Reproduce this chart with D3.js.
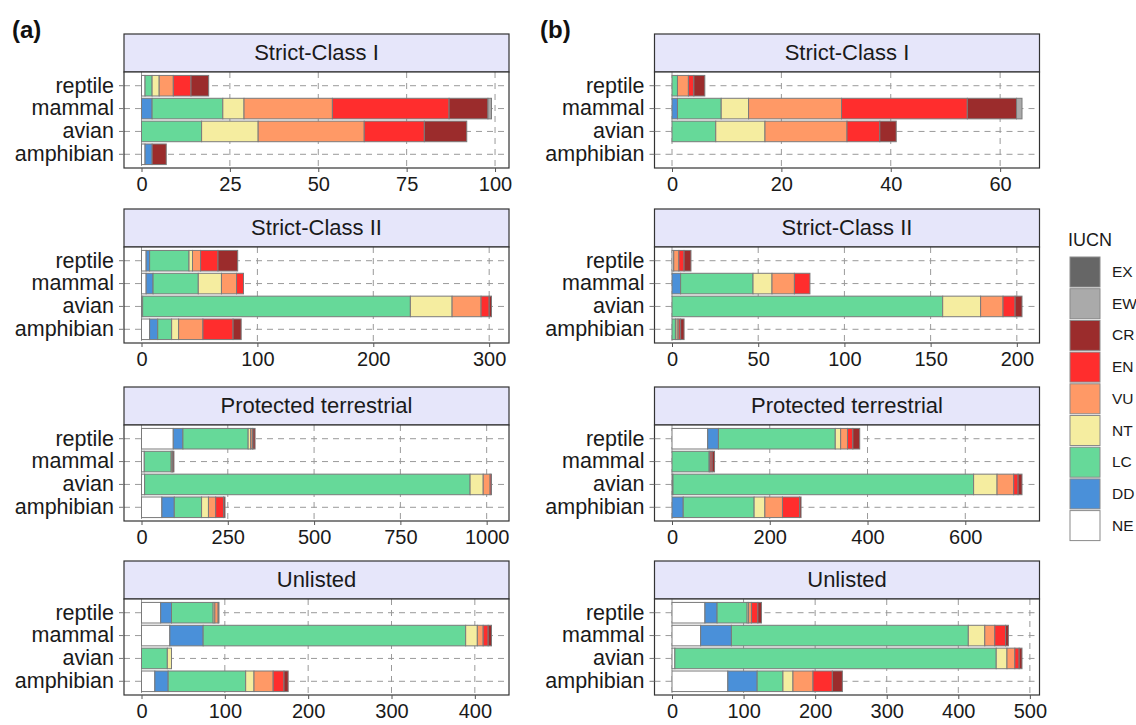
<!DOCTYPE html>
<html><head><meta charset="utf-8">
<script src="https://cdn.jsdelivr.net/npm/d3@7"></script>
<style>body{margin:0;background:#fff}svg{display:block}text{font-family:"Liberation Sans",Arial,sans-serif}</style>
</head><body>
<svg id="chart" width="1136" height="725"></svg>
<script>
// ---------- data ----------
const taxa = ["amphibian", "avian", "mammal", "reptile"];
const statuses = ["NE", "DD", "LC", "NT", "VU", "EN", "CR", "EW", "EX"];
const statusColors = ["#ffffff", "#4a90d9", "#66d999", "#f5eda0", "#ff9966", "#ff2d2d", "#9b2c2c", "#aaaaaa", "#666666"];
const panelTitles = ["Strict-Class I", "Strict-Class II", "Protected terrestrial", "Unlisted"];
const columnLabels = ["(a)", "(b)"];

// counts per taxon (rows: amphibian, avian, mammal, reptile; cols: NE DD LC NT VU EN CR EW EX)
const a_strictI = [
  [1, 2, 0, 0, 0, 0, 4, 0, 0],
  [0, 0, 17, 16, 30, 17, 12, 0, 0],
  [0, 3, 20, 6, 25, 33, 11, 1, 0],
  [1, 0, 2, 2, 4, 5, 5, 0, 0]
];
const a_strictII = [
  [7, 7, 12, 6, 21, 26, 7, 0, 0],
  [1, 0, 231, 36, 25, 7, 2, 0, 0],
  [4, 6, 39, 20, 13, 6, 0, 0, 0],
  [4, 3, 34, 3, 7, 15, 17, 0, 0]
];
const a_protected = [
  [59, 36, 79, 20, 21, 23, 4, 0, 0],
  [9, 0, 943, 38, 20, 4, 0, 0, 0],
  [8, 0, 78, 0, 3, 2, 3, 0, 0],
  [92, 28, 189, 7, 5, 2, 6, 0, 0]
];
const a_unlisted = [
  [16, 16, 93, 10, 23, 13, 5, 0, 0],
  [0, 0, 31, 5, 0, 0, 0, 0, 0],
  [34, 40, 315, 14, 7, 6, 4, 0, 0],
  [23, 13, 50, 2, 4, 0, 1, 0, 0]
];
const b_strictI = [
  [0, 0, 0, 0, 0, 0, 0, 0, 0],
  [0, 0, 8, 9, 15, 6, 3, 0, 0],
  [0, 1, 8, 5, 17, 23, 9, 1, 0],
  [0, 0, 1, 0, 2, 1, 2, 0, 0]
];
const b_strictII = [
  [0, 0, 2, 1, 1, 1, 2, 0, 0],
  [0, 0, 157, 22, 13, 7, 4, 0, 0],
  [0, 5, 42, 11, 13, 9, 0, 0, 0],
  [1, 0, 0, 0, 3, 3, 4, 0, 0]
];
const b_protected = [
  [0, 23, 145, 22, 36, 35, 3, 0, 0],
  [2, 0, 615, 48, 34, 9, 8, 0, 0],
  [0, 0, 76, 0, 2, 4, 5, 0, 0],
  [73, 22, 239, 11, 14, 11, 14, 0, 0]
];
const b_unlisted = [
  [78, 41, 36, 14, 28, 27, 14, 0, 0],
  [4, 0, 449, 15, 11, 6, 4, 0, 0],
  [40, 43, 331, 23, 14, 15, 4, 0, 0],
  [46, 17, 42, 2, 4, 9, 5, 0, 0]
];
// tick labels per panel
const a_ticks = [[0, 25, 50, 75, 100], [0, 100, 200, 300], [0, 250, 500, 750, 1000], [0, 100, 200, 300, 400]];
const b_ticks = [[0, 20, 40, 60], [0, 50, 100, 150, 200], [0, 200, 400, 600], [0, 100, 200, 300, 400, 500]];

const columns = [
  {label: columnLabels[0], panels: [a_strictI, a_strictII, a_protected, a_unlisted], ticks: a_ticks},
  {label: columnLabels[1], panels: [b_strictI, b_strictII, b_protected, b_unlisted], ticks: b_ticks}
];

// ---------- layout ----------
const svg = d3.select("#chart");
const colX = [124, 654.5];
const panelW = 385;
const stripTops = [34, 209, 387, 561];
const stripH = 38;
const plotH = 96;
const labelX = [12, 540];
const color = d3.scaleOrdinal().domain(statuses).range(statusColors);

columns.forEach((col, ci) => {
  svg.append("text").attr("x", labelX[ci]).attr("y", 38)
    .attr("font-size", 24).attr("font-weight", "bold").attr("fill", "#111").text(col.label);

  col.panels.forEach((mat, pi) => {
    const x0 = colX[ci];
    const st = stripTops[pi];
    const top = st + stripH;
    const g = svg.append("g");

    const rows = taxa.map((t, i) => {
      const r = {taxon: t};
      statuses.forEach((s, j) => r[s] = mat[i][j]);
      return r;
    });
    const totals = mat.map(r => d3.sum(r));
    const maxT = d3.max(totals) || 1;
    const x = d3.scaleLinear().domain([-0.05 * maxT, 1.05 * maxT]).range([x0, x0 + panelW]);
    const y = d3.scaleBand().domain(taxa.slice().reverse()).range([top, top + plotH])
      .paddingInner(0.1).paddingOuter(0.15);

    // strip
    g.append("rect").attr("x", x0).attr("y", st).attr("width", panelW).attr("height", stripH)
      .attr("fill", "#e6e6fa").attr("stroke", "#333").attr("stroke-width", 1.2);
    g.append("text").attr("x", x0 + panelW / 2).attr("y", st + stripH / 2 + 1)
      .attr("text-anchor", "middle").attr("dominant-baseline", "middle")
      .attr("font-size", 22).attr("fill", "#1a1a1a").text(panelTitles[pi]);

    // panel background
    g.append("rect").attr("x", x0).attr("y", top).attr("width", panelW).attr("height", plotH).attr("fill", "#fff");

    // grid
    const ticks = col.ticks[pi];
    g.selectAll(".vg").data(ticks).enter().append("line")
      .attr("x1", d => x(d)).attr("x2", d => x(d)).attr("y1", top).attr("y2", top + plotH)
      .attr("stroke", "#9a9a9a").attr("stroke-width", 1).attr("stroke-dasharray", "6,5");
    g.selectAll(".hg").data(taxa).enter().append("line")
      .attr("x1", x0).attr("x2", x0 + panelW)
      .attr("y1", d => y(d) + y.bandwidth() / 2).attr("y2", d => y(d) + y.bandwidth() / 2)
      .attr("stroke", "#9a9a9a").attr("stroke-width", 1).attr("stroke-dasharray", "6,5");

    // bars
    const stack = d3.stack().keys(statuses)(rows);
    stack.forEach(layer => {
      g.selectAll(null).data(layer.filter(d => d[1] - d[0] > 0)).enter().append("rect")
        .attr("x", d => x(d[0])).attr("width", d => x(d[1]) - x(d[0]))
        .attr("y", d => y(d.data.taxon)).attr("height", y.bandwidth())
        .attr("fill", color(layer.key)).attr("stroke", "#7a7a7a").attr("stroke-width", 1);
    });

    // border
    g.append("rect").attr("x", x0).attr("y", top).attr("width", panelW).attr("height", plotH)
      .attr("fill", "none").attr("stroke", "#333").attr("stroke-width", 1.2);

    // x axis
    const xa = g.append("g").attr("transform", `translate(0,${top + plotH})`)
      .call(d3.axisBottom(x).tickValues(ticks).tickSize(4).tickPadding(5).tickFormat(d3.format("d")));
    xa.select(".domain").remove();
    xa.selectAll(".tick line").attr("stroke", "#555");
    xa.selectAll(".tick text").attr("font-size", 20).attr("fill", "#1a1a1a")
      .attr("font-family", '"Liberation Sans",Arial,sans-serif');

    // y axis
    const ya = g.append("g").attr("transform", `translate(${x0},0)`)
      .call(d3.axisLeft(y).tickSize(5).tickPadding(5));
    ya.select(".domain").remove();
    ya.selectAll(".tick line").attr("stroke", "#777");
    ya.selectAll(".tick text").attr("font-size", 21.5).attr("fill", "#1a1a1a")
      .attr("font-family", '"Liberation Sans",Arial,sans-serif');
  });
});

// legend
const lg = svg.append("g");
lg.append("text").attr("x", 1068).attr("y", 246).attr("font-size", 18).attr("fill", "#1a1a1a").text("IUCN");
const legendOrder = statuses.slice().reverse();
const ly = d3.scaleBand().domain(legendOrder).range([257, 257 + 31.7 * legendOrder.length]);
lg.selectAll(".key").data(legendOrder).enter().append("rect")
  .attr("x", 1070).attr("y", d => ly(d)).attr("width", 30).attr("height", 30)
  .attr("fill", d => color(d)).attr("stroke", "#8a8a8a").attr("stroke-width", 1);
lg.selectAll(".lab").data(legendOrder).enter().append("text")
  .attr("x", 1112).attr("y", d => ly(d) + 16).attr("dominant-baseline", "middle")
  .attr("font-size", 15.5).attr("fill", "#1a1a1a").text(d => d);
</script>
</body></html>
